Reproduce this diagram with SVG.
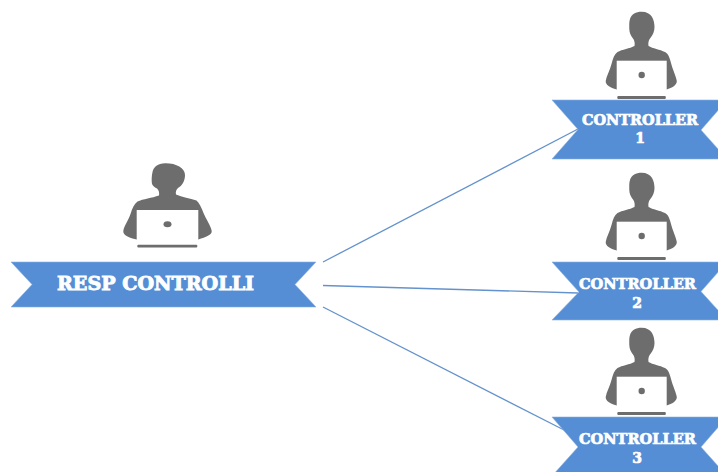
<svg xmlns="http://www.w3.org/2000/svg" width="718" height="472" viewBox="0 0 718 472">
<style>
.rib{fill:#558ed5;stroke:#8fb4e3;stroke-width:.6}
.lbl{font-family:"DejaVu Serif","Liberation Serif",serif;font-weight:700;fill:#fff;stroke:#fff;text-anchor:middle}
.big{font-size:18.5px;stroke-width:.9}
.sm{font-size:14px;stroke-width:.7}
.con{fill:none;stroke:#6492cc;stroke-width:1.3}
.sil{fill:#6d6d6d}
.lap{fill:#fff}
</style>
<defs>
<g id="person">
<path class="sil" d="M641.500 11.700C636 11.700 631.500 14 630 19C629 22 629.300 25 629.300 29C629.300 33 631 36 633 38.500C634.500 40.500 635 43 634.500 46C630 48.500 622 49.500 617.500 52C614.500 54 613 58 611.500 64C610 70 606.500 76 605.700 81C605.500 85 610 87.500 616.700 89.500L666.700 89.500C672 88 677 85 676.800 81C676 76 672.500 69 671 63C669.500 57 668 53.500 665 52C660 49.500 652.500 48.500 648.500 46C648 43 648.500 40.500 650 38.500C653 35 654.500 31 654.500 27C654.500 20 652 11.700 641.500 11.700Z"/>
<rect class="lap" x="616.700" y="60.700" width="50" height="29.600"/>
<circle class="sil" cx="641.700" cy="75" r="3.200"/>
<rect class="sil" x="617.300" y="96" width="48.500" height="3" rx="1"/>
</g>
</defs>
<g id="connectors">
<line class="con" x1="323" y1="262" x2="578" y2="129"/>
<line class="con" x1="323" y1="285.500" x2="578" y2="293"/>
<line class="con" x1="323" y1="307" x2="566" y2="431"/>
</g>
<g id="resp-controlli">
<path class="sil" d="M165 163.300C158 163.500 153.500 167 152.500 172C151.500 176 151.500 181 152 184C153 186.500 155 187.500 157 188.500C159 190.500 159.500 193 159 195.500C152 198 143 199 137.500 201.500C134 204 132.500 208 130.500 214C128.500 220 124 226 123.300 231C123 235 128 237.500 136.700 239.500L198.300 239.500C206 237 212 235 211.700 231C211 226 206 219 203.500 213C201 207 199.500 203 196.500 200.500C190 198 182 197.500 176 194.500C175.500 192 176 190 178 188C182 186 185 181 185 175C185 168 176 163.100 165 163.300Z"/>
<rect class="lap" x="136.700" y="210" width="61.600" height="30"/>
<ellipse class="sil" cx="167.500" cy="224.300" rx="4" ry="3"/>
<rect class="sil" x="137.300" y="244.700" width="60" height="2.800" rx="1"/>
<polygon class="rib" points="11,262 316,262 295,284.500 316,307 11,307 32,284.500"/>
<text class="lbl big" x="155.500" y="290" textLength="197" lengthAdjust="spacingAndGlyphs">RESP CONTROLLI</text>
</g>
<g id="controller-1">
<use href="#person"/>
<polygon class="rib" points="552,100 727,100 701,130 727,159 552,159 578,129.500"/>
<text class="lbl sm" x="640" y="125" textLength="116" lengthAdjust="spacingAndGlyphs">CONTROLLER</text>
<text class="lbl sm" x="640" y="143">1</text>
</g>
<g id="controller-2">
<use href="#person" y="161"/>
<polygon class="rib" points="552,262 727,262 701,291.500 727,320 552,320 579,292"/>
<text class="lbl sm" x="637.500" y="289" textLength="117" lengthAdjust="spacingAndGlyphs">CONTROLLER</text>
<text class="lbl sm" x="637" y="307.500">2</text>
</g>
<g id="controller-3">
<use href="#person" y="316"/>
<polygon class="rib" points="552,417 727,417 701,447 727,476 552,476 578,447"/>
<text class="lbl sm" x="637.500" y="444" textLength="117" lengthAdjust="spacingAndGlyphs">CONTROLLER</text>
<text class="lbl sm" x="637" y="462.500">3</text>
</g>
</svg>
